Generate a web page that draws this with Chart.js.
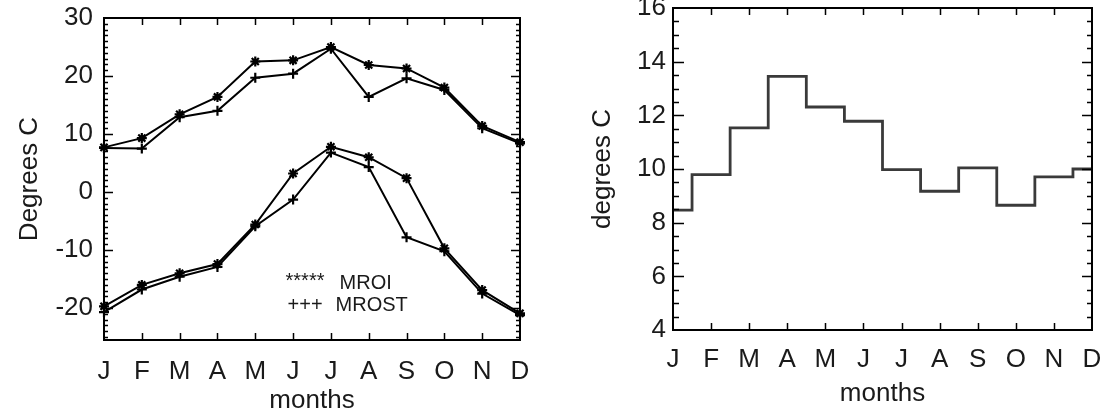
<!DOCTYPE html>
<html>
<head>
<meta charset="utf-8">
<script src="https://cdn.jsdelivr.net/npm/chart.js@4"></script>
<style>
  html, body { margin: 0; padding: 0; background: #fff; }
  #wrap { position: relative; width: 1105px; height: 416px; }
  .box { position: absolute; top: 0; height: 416px; }
  #leftBox { left: 0; width: 560px; }
  #rightBox { left: 560px; width: 545px; }
</style>
</head>
<body>
<div id="wrap">
  <div class="box" id="leftBox"><canvas id="tempChart"></canvas></div>
  <div class="box" id="rightBox"><canvas id="diffChart"></canvas></div>
</div>
<script>
const months = ["J", "F", "M", "A", "M", "J", "J", "A", "S", "O", "N", "D"];

// left panel: max / min temperatures, two sources each
const maxMROI = [7.7, 9.3, 13.4, 16.4, 22.5, 22.7, 25.0, 21.9, 21.3, 18.0, 11.4, 8.6];
const maxMROST = [7.6, 7.5, 12.9, 14.0, 19.7, 20.4, 24.7, 16.4, 19.6, 17.6, 11.0, 8.4];
const minMROI = [-19.7, -16.0, -14.0, -12.4, -5.6, 3.2, 7.8, 6.0, 2.4, -9.7, -16.9, -20.9];
const minMROST = [-20.7, -16.8, -14.6, -12.9, -5.9, -1.3, 6.8, 4.3, -7.8, -10.2, -17.5, -21.2];

// right panel: monthly step values
const stepValues = [8.47, 9.79, 11.53, 13.45, 12.31, 11.78, 9.98, 9.17, 10.04, 8.65, 9.71, 10.0];

const FONT = "'Liberation Sans', Arial, sans-serif";
const TEXT = "#1a1a1a";

// frame + inward ticks, drawn from the chart's own scales
function frameTicks(opts) {
  return {
    id: "frameTicks",
    afterDraw(chart) {
      const { ctx, chartArea: a, scales: { x, y } } = chart;
      ctx.save();
      ctx.strokeStyle = "#000";
      ctx.lineWidth = 1.5;
      ctx.beginPath();
      for (let i = 1; i < months.length - 1; i++) {
        const px = Math.round(x.getPixelForValue(i)) + 0.5;
        ctx.moveTo(px, a.bottom); ctx.lineTo(px, a.bottom - opts.xTick);
        ctx.moveTo(px, a.top); ctx.lineTo(px, a.top + opts.xTick);
      }
      for (let v = opts.min; v <= opts.max + 1e-6; v += opts.minor) {
        const py = Math.round(y.getPixelForValue(v)) + 0.5;
        if (py < a.top + 1 || py > a.bottom - 1) continue;
        const major = Math.abs(v / opts.major - Math.round(v / opts.major)) < 1e-6;
        const lenL = major ? opts.majorL : opts.minorL;
        const lenR = major ? opts.majorR : opts.minorR;
        ctx.moveTo(a.left, py); ctx.lineTo(a.left + lenL, py);
        ctx.moveTo(a.right, py); ctx.lineTo(a.right - lenR, py);
      }
      ctx.stroke();
      ctx.lineWidth = 2;
      ctx.strokeRect(a.left, a.top, a.right - a.left, a.bottom - a.top);
      ctx.restore();
    }
  };
}

const legendText = {
  id: "legendText",
  afterDraw(chart) {
    const { ctx, scales: { x, y } } = chart;
    ctx.save();
    ctx.fillStyle = TEXT;
    ctx.font = "20px " + FONT;
    ctx.textBaseline = "middle";
    const x0 = x.getPixelForValue(4.8);
    ctx.fillText("*****", x0, y.getPixelForValue(-15.4));
    ctx.fillText("MROI", x0 + 54, y.getPixelForValue(-15.8));
    ctx.fillText("+++", x0 + 2, y.getPixelForValue(-19.6));
    ctx.fillText("MROST", x0 + 50, y.getPixelForValue(-19.6));
    ctx.restore();
  }
};

function lineSet(label, data, style) {
  return {
    label, data,
    borderColor: "#000",
    backgroundColor: "#000",
    borderWidth: 2,
    pointStyle: style,
    pointRadius: 5,
    pointBorderWidth: 2.2,
    tension: 0
  };
}

function baseScales(cfg) {
  return {
    x: {
      type: "category",
      offset: false,
      grid: { display: false, drawTicks: false },
      border: { display: false },
      ticks: { color: TEXT, font: { family: FONT, size: 26 }, padding: cfg.xPad, maxRotation: 0, autoSkip: false },
      title: { display: true, text: "months", color: TEXT, font: { family: FONT, size: 26 }, padding: { top: 0, bottom: cfg.xTitlePad } },
      afterFit(s) { s.height = cfg.xHeight; s.paddingLeft = 0; s.paddingRight = 0; }
    },
    y: {
      min: cfg.min, max: cfg.max,
      grid: { display: false, drawTicks: false },
      border: { display: false },
      afterBuildTicks(s) { s.ticks = s.ticks.filter(t => Math.abs(t.value % cfg.major) < 1e-6); },
      ticks: { stepSize: cfg.major, color: TEXT, font: { family: FONT, size: 26 }, padding: cfg.yPad },
      title: { display: true, text: cfg.yTitle, color: TEXT, font: { family: FONT, size: 26 }, padding: { top: cfg.yTitlePad, bottom: 0 } },
      afterFit(s) { s.width = cfg.yWidth; s.paddingTop = 0; s.paddingBottom = 0; }
    }
  };
}

new Chart(document.getElementById("tempChart"), {
  type: "line",
  data: {
    labels: months,
    datasets: [
      lineSet("MROI max", maxMROI, "star"),
      lineSet("MROST max", maxMROST, "cross"),
      lineSet("MROI min", minMROI, "star"),
      lineSet("MROST min", minMROST, "cross")
    ]
  },
  options: {
    responsive: true,
    maintainAspectRatio: false,
    animation: false,
    layout: { padding: { top: 18, right: 40, left: 0, bottom: 0 } },
    plugins: { legend: { display: false }, tooltip: { enabled: false } },
    scales: baseScales({
      min: -25.5, max: 30, major: 10, yTitle: "Degrees C",
      xHeight: 76, yWidth: 104, xPad: 16, xTitlePad: 0, yPad: 11, yTitlePad: 14
    })
  },
  plugins: [frameTicks({ min: -25, max: 30, major: 10, minor: 1, xTick: 7, majorL: 9, minorL: 4, majorR: 9, minorR: 4 }), legendText]
});

new Chart(document.getElementById("diffChart"), {
  type: "line",
  data: {
    labels: months,
    datasets: [{
      label: "difference",
      data: stepValues,
      stepped: "middle",
      borderColor: "#3a3a3a",
      borderWidth: 2.8,
      pointRadius: 0,
      fill: false
    }]
  },
  options: {
    responsive: true,
    maintainAspectRatio: false,
    animation: false,
    layout: { padding: { top: 8, right: 13, left: 0, bottom: 0 } },
    plugins: { legend: { display: false }, tooltip: { enabled: false } },
    scales: baseScales({
      min: 4, max: 16, major: 2, yTitle: "degrees C",
      xHeight: 86, yWidth: 113, xPad: 14, xTitlePad: 7, yPad: 7, yTitlePad: 27
    })
  },
  plugins: [frameTicks({ min: 4, max: 16, major: 2, minor: 0.5, xTick: 7, majorL: 11, minorL: 6, majorR: 10, minorR: 5 })]
});
</script>
</body>
</html>
